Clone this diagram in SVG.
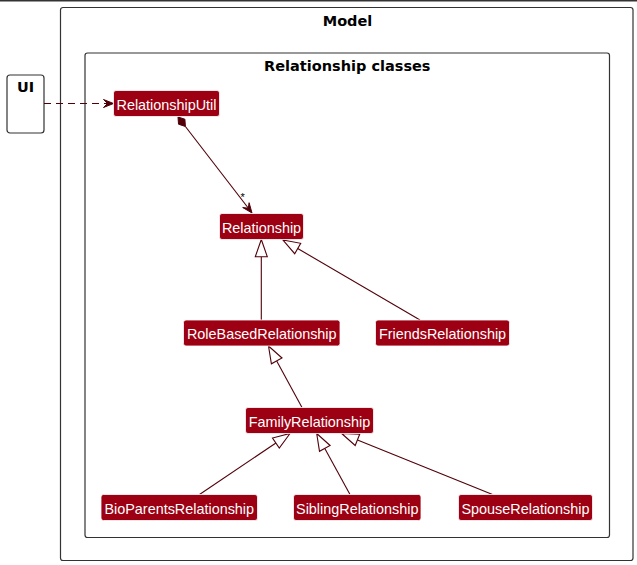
<svg xmlns="http://www.w3.org/2000/svg" width="637" height="565" viewBox="0 0 637 565">
<style>
.pkg{fill:none;stroke:#333;stroke-width:1.2}
.title{font-family:"DejaVu Sans",sans-serif;font-weight:bold;font-size:14.5px;fill:#000;text-anchor:middle}
.cls rect{fill:#9D0012;stroke:#FFFFFF;stroke-width:0.8}
.cls text{font-family:"Liberation Sans",Arial,sans-serif;font-size:14.4px;fill:#FFFFFF;text-anchor:middle}
.edge{stroke:#51000A;stroke-width:1.1;fill:none}
.head{fill:#51000A;stroke:#51000A;stroke-width:1}
.tri{fill:#FFFFFF;stroke:#51000A;stroke-width:1.1}
</style>
<rect width="637" height="565" fill="#FFFFFF"/>
<line x1="0" y1="0.7" x2="637" y2="0.7" stroke="#333" stroke-width="1.5"/>

<g id="Model">
<rect class="pkg" x="60.5" y="7.5" width="572.5" height="553" rx="2.5"/>
<text class="title" x="347.5" y="25.5">Model</text>
</g>
<g id="RelationshipClasses">
<rect class="pkg" x="85" y="53" width="524.5" height="484.5" rx="2.5"/>
<text class="title" x="347.3" y="70.7">Relationship classes</text>
</g>
<g id="UI">
<rect class="pkg" x="7" y="75" width="37" height="58" rx="3"/>
<text class="title" x="25.5" y="92">UI</text>
</g>

<g id="connectors">
<!-- UI to RelationshipUtil -->
<line class="edge" x1="44" y1="103.5" x2="110" y2="103.5" stroke-dasharray="7,5"/>
<polygon class="head" points="113.5,103.5 103.5,107.5 107.5,103.5 103.5,99.5"/>
<!-- composition -->
<polygon class="head" points="178,117 184.9,119.2 185.4,126.5 178.5,124.2"/>
<line class="edge" x1="185.4" y1="126.5" x2="249" y2="209"/>
<polygon class="head" points="252,213 249.1,202.7 248.3,208.2 242.7,207.5"/>
<text x="240.5" y="201" font-family="Liberation Sans,Arial,sans-serif" font-size="11" fill="#000">*</text>
<!-- RoleBased -> Relationship -->
<line class="edge" x1="261.3" y1="320" x2="261.3" y2="256.7"/>
<polygon class="tri" points="261.3,239.5 255.3,256.7 267.3,256.7"/>
<!-- Friends -> Relationship -->
<line class="edge" x1="420" y1="320" x2="297.7" y2="248.5"/>
<polygon class="tri" points="283,240 300.7,243.3 294.7,253.7"/>
<!-- Family -> RoleBased -->
<line class="edge" x1="302" y1="407.5" x2="276.7" y2="360.9"/>
<polygon class="tri" points="268.5,346 282,358 271.4,363.8"/>
<!-- Bio -> Family -->
<line class="edge" x1="199.5" y1="494.5" x2="275.9" y2="443"/>
<polygon class="tri" points="290,433.5 279.3,448 272.5,438"/>
<!-- Sibling -> Family -->
<line class="edge" x1="350" y1="494.5" x2="324.8" y2="448.4"/>
<polygon class="tri" points="316.7,433.5 330.1,445.5 319.5,451.3"/>
<!-- Spouse -> Family -->
<line class="edge" x1="492.5" y1="494.5" x2="357.5" y2="439.9"/>
<polygon class="tri" points="341.7,433.5 359.7,434.3 355.2,445.5"/>
</g>

<g id="RelationshipUtil" class="cls"><rect x="113.5" y="90.5" width="106" height="26" rx="2.5"/><text x="166.5" y="109.5">RelationshipUtil</text></g>
<g id="Relationship" class="cls"><rect x="219.5" y="213.5" width="84" height="26" rx="2.5"/><text x="261.5" y="232.5">Relationship</text></g>
<g id="RoleBasedRelationship" class="cls"><rect x="183.5" y="320" width="156.5" height="26" rx="2.5"/><text x="261.75" y="339">RoleBasedRelationship</text></g>
<g id="FriendsRelationship" class="cls"><rect x="375.5" y="320" width="134" height="26" rx="2.5"/><text x="442.5" y="339">FriendsRelationship</text></g>
<g id="FamilyRelationship" class="cls"><rect x="245.5" y="407.5" width="128" height="26" rx="2.5"/><text x="309.5" y="426.5">FamilyRelationship</text></g>
<g id="BioParentsRelationship" class="cls"><rect x="101" y="494.5" width="156.5" height="26" rx="2.5"/><text x="179.25" y="513.5">BioParentsRelationship</text></g>
<g id="SiblingRelationship" class="cls"><rect x="293.5" y="494.5" width="127.5" height="26" rx="2.5"/><text x="357.25" y="513.5">SiblingRelationship</text></g>
<g id="SpouseRelationship" class="cls"><rect x="458.5" y="494.5" width="134" height="26" rx="2.5"/><text x="525.5" y="513.5">SpouseRelationship</text></g>
</svg>
